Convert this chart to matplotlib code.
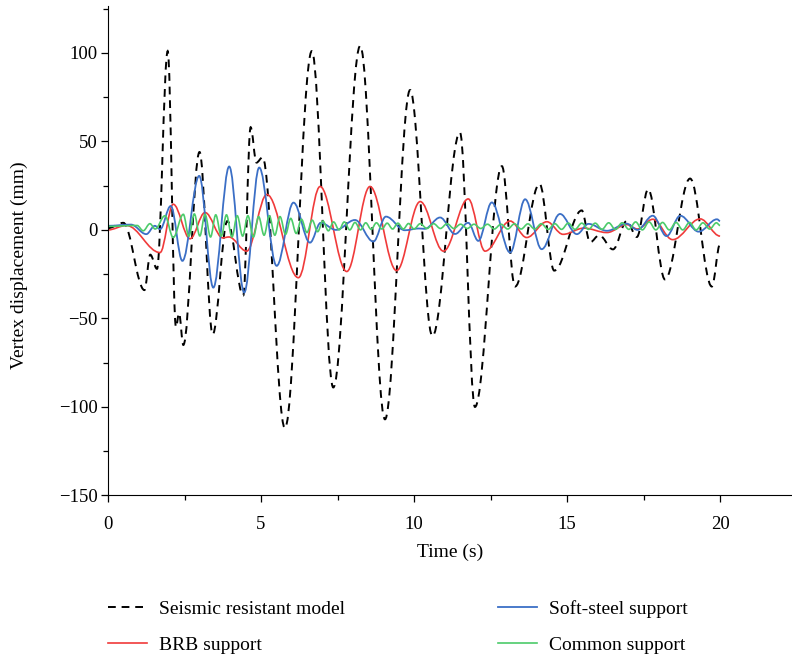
import matplotlib
matplotlib.use('Agg')
import matplotlib.pyplot as plt
from matplotlib.path import Path
from matplotlib.patches import PathPatch
from matplotlib.lines import Line2D
from matplotlib.ticker import MultipleLocator

plt.rcParams['font.family'] = 'Liberation Serif'

# turning points of each displacement history (time in s, displacement in mm)
seismic_t = [0, 0.5, 1.19, 1.38, 1.6, 1.95, 2.22, 2.32, 2.46, 2.99,
             3.42, 3.9, 4.42, 4.66, 4.85, 5.05, 5.78, 6.66, 7.36, 8.24,
             9.05, 9.87, 10.6, 11.5, 11.99, 12.87, 13.3, 14.1, 14.58, 15.48,
             15.75, 16.05, 16.5, 16.95, 17.28, 17.65, 18.2, 19.02, 19.73, 20.0]
seismic_y = [1, 4, -34, -14, -22, 101, -55, -47, -65, 44,
             -59, 5, -37, 58, 38, 41, -112, 101, -89, 104,
             -107, 79, -60, 55, -100, 36, -32, 26, -23, 11,
             -7, -3, -11, 5, -4, 23, -28, 29, -32, -8]

brb_t = [0, 0.6, 1.7, 2.13, 2.68, 3.17, 3.75, 3.95, 4.53, 5.19,
         6.22, 6.93, 7.8, 8.56, 9.43, 10.2, 10.96, 11.77, 12.32, 13.14,
         13.68, 14.34, 14.87, 15.55, 16.3, 16.95, 17.3, 17.8, 18.45, 19.35,
         20.0]
brb_y = [0, 2.5, -12.8, 14.5, -5, 9.8, -4.5, -4, -12, 20,
         -27, 24.5, -23.5, 24.5, -23, 16, -12, 17.5, -12, 5,
         -4.3, 4.6, -2.5, 1, -1.5, 3, 0.5, 6, -5.5, 6.2,
         -3.5]

soft_t = [0, 0.75, 1.25, 1.53, 1.7, 2.05, 2.43, 2.98, 3.44, 3.96,
          4.45, 4.94, 5.51, 6.06, 6.6, 6.95, 7.45, 8.07, 8.67, 9.08,
          9.7, 10.15, 10.35, 10.85, 11.34, 11.77, 12.1, 12.54, 13.14, 13.63,
          14.17, 14.77, 15.32, 15.7, 16.3, 16.95, 17.3, 17.8, 18.25, 18.7,
          19.3, 19.9, 20.0]
soft_y = [2.3, 3, -2.4, 2.3, 0.4, 13.5, -17.5, 30.5, -32.6, 35.8,
          -35.4, 35.2, -20.3, 15.4, -7.2, 4, 0, 5.6, -6.6, 7.5,
          -0.2, 0.8, 0.6, 7, -2.3, 4, -6.2, 15.5, -12.8, 17.3,
          -10.9, 9, -2.4, 3.4, -0.5, 3.5, 0, 8, -3.5, 8,
          -1, 6, 5]

common_t = [0, 0.95, 1.15, 1.37, 1.54, 1.86, 2.13, 2.46, 2.64, 2.82,
            3.0, 3.17, 3.35, 3.52, 3.7, 3.87, 4.05, 4.22, 4.4, 4.57,
            4.75, 4.92, 5.1, 5.27, 5.45, 5.62, 5.8, 5.97, 6.15, 6.32,
            6.5, 6.67, 6.85, 7.02, 7.2, 7.37, 7.55, 7.72, 7.9, 8.07,
            8.25, 8.42, 8.6, 8.77, 8.95, 9.12, 9.3, 9.47, 9.65, 9.82,
            10.0, 10.2, 10.42, 10.64, 10.86, 11.08, 11.3, 11.52, 11.74, 11.96,
            12.18, 12.4, 12.62, 12.84, 13.06, 13.28, 13.5, 13.72, 13.94, 14.16,
            14.38, 14.6, 14.82, 15.04, 15.26, 15.48, 15.7, 15.92, 16.14, 16.36,
            16.58, 16.8, 17.02, 17.24, 17.46, 17.68, 17.9, 18.12, 18.34, 18.56,
            18.78, 19.0, 19.22, 19.44, 19.66, 19.88, 20.0]
common_y = [2, 2.5, -0.5, 3.5, 0.5, 8, -4.3, 8.8, -3.5, 9,
            -3.4, 8.8, -4, 8.5, -3.5, 8.5, -4, 8, -3.5, 8,
            -4, 7.5, -3, 8, -3, 7.5, -2.5, 6.5, -2, 6,
            -1.5, 5.5, -1, 5, -0.5, 4.5, 0, 4.5, 0, 4.2,
            0, 4, 0.3, 4, 0.5, 3.8, 0.5, 3.8, 0.5, 3.6,
            0.5, 3.5, 0.8, 3.5, 0.8, 3.5, 0.8, 3.2, 0.8, 3.2,
            0.8, 3.2, 0.5, 3.2, 0.5, 3.4, 0.5, 3.4, 0.5, 3.5,
            0.3, 3.5, 0.3, 3.8, 0.3, 3.8, 0.3, 3.8, 0.3, 4,
            0.3, 4, 0.3, 4.5, 0, 4.5, 0, 4.2, 0, 4.2,
            0, 4.2, 0, 4, 0.5, 4, 2.5]

labels = ['Seismic resistant model', 'BRB support', 'Soft-steel support', 'Common support']


def curve(t, y):
    # cubic pieces between turning points, flat tangent at each one
    verts = [(t[0], y[0])]
    codes = [Path.MOVETO]
    for i in range(1, len(t)):
        d = (t[i] - t[i - 1]) * 0.36
        verts += [(t[i - 1] + d, y[i - 1]), (t[i] - d, y[i]), (t[i], y[i])]
        codes += [Path.CURVE4] * 3
    return Path(verts, codes)


styles = [
    dict(color='black', lw=1.4, linestyle=(0, (4, 3))),
    dict(color='#f03a3a', lw=1.2, linestyle='-'),
    dict(color='#3b6fc6', lw=1.3, linestyle='-'),
    dict(color='#4ccb6a', lw=1.2, linestyle='-'),
]
series = [(seismic_t, seismic_y), (brb_t, brb_y), (soft_t, soft_y), (common_t, common_y)]

fig = plt.figure(figsize=(7.92, 6.58), dpi=100)
ax = fig.add_axes([0.1364, 0.247, 0.8636, 0.744])

for (t, y), st in zip(series, styles):
    ax.add_patch(PathPatch(curve(t, y), fill=False, **st))

ax.set_xlim(0, 22.35)
ax.set_ylim(-150, 126.5)
ax.spines['top'].set_visible(False)
ax.spines['right'].set_visible(False)
ax.xaxis.set_major_locator(MultipleLocator(5))
ax.xaxis.set_minor_locator(MultipleLocator(2.5))
ax.yaxis.set_major_locator(MultipleLocator(50))
ax.yaxis.set_minor_locator(MultipleLocator(25))
ax.tick_params(which='both', direction='out', labelsize=13.5, width=0.9)
ax.tick_params(which='major', length=5)
ax.tick_params(which='minor', length=3.5)
ax.tick_params(axis='x', which='major', pad=10)
ax.tick_params(axis='y', which='major', pad=2.5)

ax.set_xlabel('Time (s)', fontsize=14, labelpad=7.5)
ax.set_ylabel('Vertex displacement (mm)', fontsize=14)
ax.yaxis.set_label_coords(-0.117, 0.471)

handles = [Line2D([], [], **st) for st in styles]
fig.legend(handles, labels, ncol=2, loc='upper left', bbox_to_anchor=(0.136, 0.0885),
           frameon=False, fontsize=14, handlelength=2.0, columnspacing=7.85,
           handletextpad=0.65, labelspacing=0.95, borderpad=0, borderaxespad=0)

fig.savefig('out.png', dpi=100)
